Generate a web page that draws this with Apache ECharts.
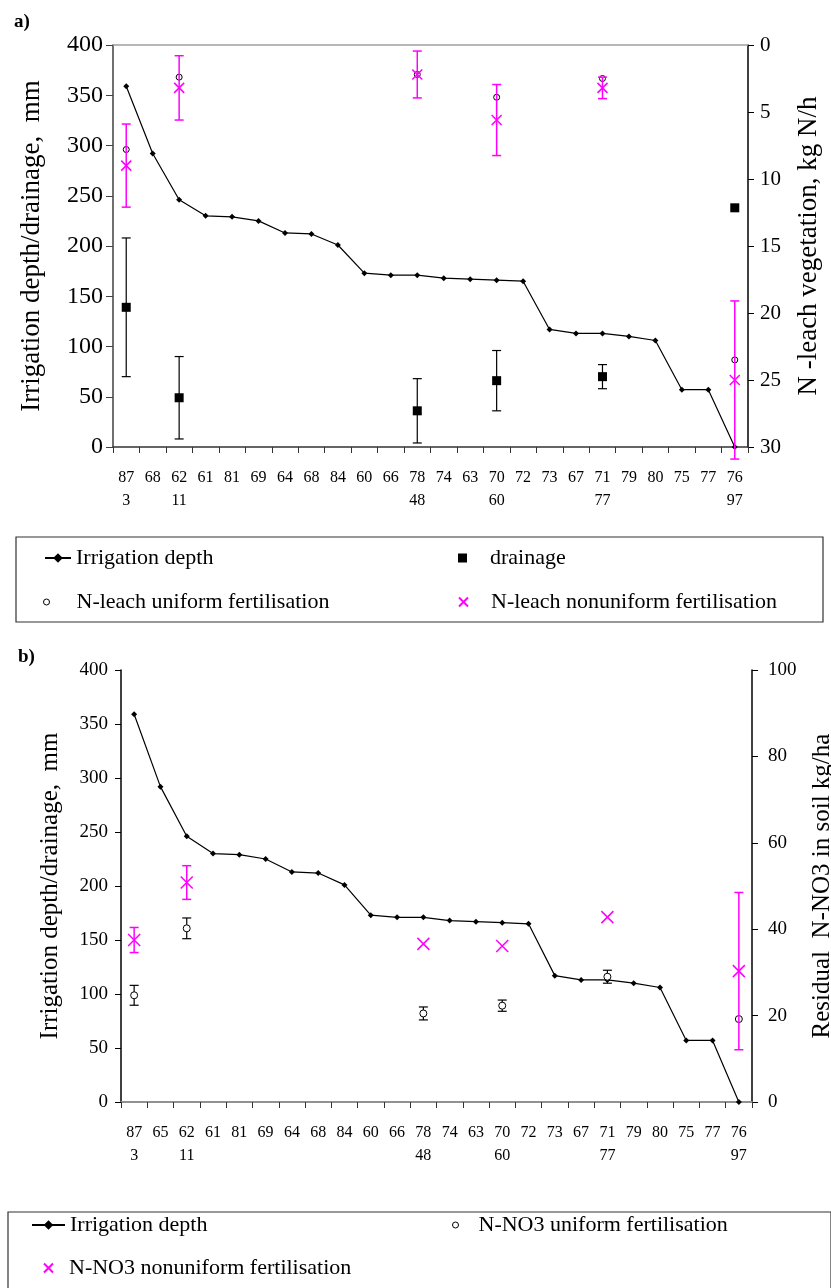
<!DOCTYPE html>
<html><head><meta charset="utf-8">
<script src="https://cdn.jsdelivr.net/npm/echarts@6/dist/echarts.min.js"></script>
<style>html,body{margin:0;padding:0;background:#fff}#c{width:831px;height:1288px}</style>
</head><body><div id="c"></div>
<script>
// ---------- data ----------
const categoriesA = ['87','68','62','61','81','69','64','68','84','60','66','78','74','63','70','72','73','67','71','79','80','75','77','76'];
const categoriesB = ['87','65','62','61','81','69','64','68','84','60','66','78','74','63','70','72','73','67','71','79','80','75','77','76'];
const subLabels   = ['3','','11','','','','','','','','','48','','','60','','','','77','','','','','97'];
const irrigationDepth = [359,292,246,230,229,225,213,212,201,173,171,171,168,167,166,165,117,113,113,110,106,57,57,0];
// panel a
const drainage     = [139,null,49,null,null,null,null,null,null,null,null,36,null,null,66,null,null,null,70,null,null,null,null,238];
const drainageErr  = [69,null,41,null,null,null,null,null,null,null,null,32,null,null,30,null,null,null,12,null,null,null,null,null];
const nLeachUniform    = [7.8,null,2.4,null,null,null,null,null,null,null,null,2.2,null,null,3.9,null,null,null,2.5,null,null,null,null,23.5];
const nLeachNonuni     = [9.0,null,3.2,null,null,null,null,null,null,null,null,2.2,null,null,5.6,null,null,null,3.2,null,null,null,null,25.0];
const nLeachNonuniErr  = [3.1,null,2.4,null,null,null,null,null,null,null,null,1.75,null,null,2.65,null,null,null,0.8,null,null,null,null,5.9];
// panel b
const no3Uniform      = [24.7,null,40.2,null,null,null,null,null,null,null,null,20.5,null,null,22.3,null,null,null,29.0,null,null,null,null,19.2];
const no3UniformErr   = [2.3,null,2.4,null,null,null,null,null,null,null,null,1.5,null,null,1.3,null,null,null,1.5,null,null,null,null,null];
const no3Nonuni       = [37.5,null,50.8,null,null,null,null,null,null,null,null,36.6,null,null,36.1,null,null,null,42.8,null,null,null,null,30.3];
const no3NonuniErr    = [2.9,null,3.9,null,null,null,null,null,null,null,null,null,null,null,null,null,null,null,null,null,null,null,null,18.2];
// axis ranges
const depthAxis  = {min:0, max:400, interval:50};
const leachAxis  = {min:0, max:30, interval:5};
const no3Axis    = {min:0, max:100, interval:20};

// ---------- helpers ----------
const FONT = 'Liberation Serif';
const MAG = '#FF00FF';
const pts = arr => arr.map((v,i)=> v==null?null:[i,v]).filter(Boolean);
const errPts = (arr,err) => arr.map((v,i)=> (v==null||err[i]==null)?null:[i,v,err[i]]).filter(Boolean);
function errorBar(color, capHalf, lw){
  return function(params, api){
    const i = api.value(0), v = api.value(1), e = api.value(2);
    const p1 = api.coord([i, v + e]), p2 = api.coord([i, v - e]);
    const st = {stroke: color, lineWidth: lw, fill: null};
    return {type:'group', children:[
      {type:'line', shape:{x1:p1[0],y1:p1[1],x2:p2[0],y2:p2[1]}, style:st},
      {type:'line', shape:{x1:p1[0]-capHalf,y1:p1[1],x2:p1[0]+capHalf,y2:p1[1]}, style:st},
      {type:'line', shape:{x1:p2[0]-capHalf,y1:p2[1],x2:p2[0]+capHalf,y2:p2[1]}, style:st}
    ]};
  };
}
const XSYM = 'path://M0,0L10,10M0,10L10,0';

function catAxis(grid, cats, fs){
  return {type:'category', gridIndex:grid, data:cats, boundaryGap:true,
    axisLine:{lineStyle:{color:'#333', width:1.5}},
    axisTick:{show:true, length:6, lineStyle:{color:'#333'}},
    axisLabel:{interval:0, color:'#000', fontFamily:FONT, fontSize:fs, lineHeight:23, margin:19,
      formatter:(v,idx)=> cats[idx] + '\n' + (subLabels[idx]||' ')}};
}
function topAxis(grid, cats){
  return {type:'category', gridIndex:grid, data:cats, position:'top',
    axisLine:{lineStyle:{color:'#a0a0a0', width:1.5}}, axisTick:{show:false}, axisLabel:{show:false}};
}

const legendText = (fs, pad)=>({fontFamily:FONT, fontSize:fs, color:'#000', lineHeight:24, rich:{g:{width:pad||0}}});
const fmt = n => '{g|}' + n;

const option = {
  animation:false,
  backgroundColor:'#fff',
  title:[
    {text:'a)', left:9, top:8, textStyle:{fontFamily:FONT, fontSize:19, fontWeight:'bold', color:'#000'}},
    {text:'b)', left:13, top:643, textStyle:{fontFamily:FONT, fontSize:19, fontWeight:'bold', color:'#000'}}
  ],
  grid:[
    {left:113, right:83, top:45, height:402, containLabel:false, outerBoundsMode:'none'},
    {left:121, right:79, top:670, height:432, containLabel:false, outerBoundsMode:'none'}
  ],
  xAxis:[ catAxis(0, categoriesA, 16), catAxis(1, categoriesB, 16), topAxis(0, categoriesA), topAxis(1, categoriesB) ],
  yAxis:[
    {type:'value', gridIndex:0, position:'left', ...depthAxis,
      name:'Irrigation depth/drainage,  mm', nameLocation:'middle', nameGap:68, nameRotate:90,
      nameTextStyle:{fontFamily:FONT, fontSize:27, color:'#000'},
      axisLine:{show:true, lineStyle:{color:'#404040', width:1.5}}, axisTick:{show:true, length:7, lineStyle:{color:'#404040'}},
      axisLabel:{fontFamily:FONT, fontSize:24, color:'#000', margin:10}, splitLine:{show:false}},
    {type:'value', gridIndex:0, position:'right', inverse:true, ...leachAxis,
      name:'N -leach vegetation, kg N/h', nameLocation:'middle', nameGap:47, nameRotate:90,
      nameTextStyle:{fontFamily:FONT, fontSize:27, color:'#000'},
      axisLine:{show:true, lineStyle:{color:'#000', width:1.5}}, axisTick:{show:true, length:6, lineStyle:{color:'#000'}},
      axisLabel:{fontFamily:FONT, fontSize:21, color:'#000', margin:12}, splitLine:{show:false}},
    {type:'value', gridIndex:1, position:'left', ...depthAxis,
      name:'Irrigation depth/drainage,  mm', nameLocation:'middle', nameGap:58, nameRotate:90,
      nameTextStyle:{fontFamily:FONT, fontSize:25, color:'#000'},
      axisLine:{show:true, lineStyle:{color:'#000', width:1.5}}, axisTick:{show:true, length:6, lineStyle:{color:'#000'}},
      axisLabel:{fontFamily:FONT, fontSize:19, color:'#000', margin:13}, splitLine:{show:false}},
    {type:'value', gridIndex:1, position:'right', ...no3Axis,
      name:'Residual  N-NO3 in soil kg/ha', nameLocation:'middle', nameGap:58, nameRotate:90,
      nameTextStyle:{fontFamily:FONT, fontSize:25, color:'#000'},
      axisLine:{show:true, lineStyle:{color:'#000', width:1.5}}, axisTick:{show:true, length:6, lineStyle:{color:'#000'}},
      axisLabel:{fontFamily:FONT, fontSize:19, color:'#000', margin:16}, splitLine:{show:false}}
  ],
  legend:[
    {left:44, top:546, padding:0, itemWidth:26, itemHeight:12, data:['Irrigation depth'], textStyle:legendText(22)},
    {left:458, top:546, padding:0, itemWidth:9, itemHeight:9, data:['drainage'], formatter:fmt, textStyle:legendText(22,18)},
    {left:43, top:590, padding:0, itemWidth:6, itemHeight:6,
      data:[{name:'N-leach uniform fertilisation', itemStyle:{borderWidth:1}}], formatter:fmt, textStyle:legendText(22,22)},
    {left:458, top:590, padding:0, itemWidth:9, itemHeight:9, data:['N-leach nonuniform fertilisation'], formatter:fmt, textStyle:legendText(22,18)},
    {left:31, top:1213, padding:0, itemWidth:33, itemHeight:12, data:['Irrigation depth'], textStyle:legendText(22)},
    {left:452, top:1213, padding:0, itemWidth:6, itemHeight:6,
      data:[{name:'N-NO3 uniform fertilisation', itemStyle:{borderWidth:1}}], formatter:fmt, textStyle:legendText(22,15)},
    {left:43, top:1256, padding:0, itemWidth:9, itemHeight:9, data:['N-NO3 nonuniform fertilisation'], formatter:fmt, textStyle:legendText(22,11)}
  ],
  graphic:[
    {type:'rect', shape:{x:16, y:537, width:807, height:85}, style:{fill:null, stroke:'#333', lineWidth:1.2}, z:-1},
    {type:'rect', shape:{x:8, y:1212, width:823, height:90}, style:{fill:null, stroke:'#333', lineWidth:1.2}, z:-1}
  ],
  series:[
    // panel a
    {name:'Irrigation depth', type:'line', xAxisIndex:0, yAxisIndex:0, data:irrigationDepth,
      symbol:'diamond', symbolSize:6, lineStyle:{color:'#000', width:1.2}, itemStyle:{color:'#000'}, z:2},
    {name:'drainage_err', type:'custom', xAxisIndex:0, yAxisIndex:0, data:errPts(drainage, drainageErr),
      renderItem:errorBar('#000', 4.5, 1.2), encode:{x:0,y:1}, z:3},
    {name:'drainage', type:'scatter', xAxisIndex:0, yAxisIndex:0, data:pts(drainage),
      symbol:'rect', symbolSize:9, itemStyle:{color:'#000', opacity:1}, z:4},
    {name:'N-leach uniform fertilisation', type:'scatter', xAxisIndex:0, yAxisIndex:1, data:pts(nLeachUniform),
      symbol:'circle', symbolSize:6, itemStyle:{color:'#fff', borderColor:'#000', borderWidth:1, opacity:1}, z:4},
    {name:'nleach_err', type:'custom', xAxisIndex:0, yAxisIndex:1, data:errPts(nLeachNonuni, nLeachNonuniErr),
      renderItem:errorBar(MAG, 4.5, 1.5), encode:{x:0,y:1}, z:5},
    {name:'N-leach nonuniform fertilisation', type:'scatter', xAxisIndex:0, yAxisIndex:1, data:pts(nLeachNonuni),
      symbol:XSYM, symbolSize:10, itemStyle:{color:MAG, borderColor:MAG, borderWidth:1.5, opacity:1}, z:6},
    // panel b
    {name:'Irrigation depth', type:'line', xAxisIndex:1, yAxisIndex:2, data:irrigationDepth,
      symbol:'diamond', symbolSize:6, lineStyle:{color:'#000', width:1.2}, itemStyle:{color:'#000'}, z:2},
    {name:'no3u_err', type:'custom', xAxisIndex:1, yAxisIndex:3, data:errPts(no3Uniform, no3UniformErr),
      renderItem:errorBar('#000', 4.5, 1.2), encode:{x:0,y:1}, z:3},
    {name:'N-NO3 uniform fertilisation', type:'scatter', xAxisIndex:1, yAxisIndex:3, data:pts(no3Uniform),
      symbol:'circle', symbolSize:7, itemStyle:{color:'#fff', borderColor:'#000', borderWidth:1, opacity:1}, z:4},
    {name:'no3n_err', type:'custom', xAxisIndex:1, yAxisIndex:3, data:errPts(no3Nonuni, no3NonuniErr),
      renderItem:errorBar(MAG, 4.5, 1.5), encode:{x:0,y:1}, z:5},
    {name:'N-NO3 nonuniform fertilisation', type:'scatter', xAxisIndex:1, yAxisIndex:3, data:pts(no3Nonuni),
      symbol:XSYM, symbolSize:12, itemStyle:{color:MAG, borderColor:MAG, borderWidth:1.5, opacity:1}, z:6}
  ]
};
const chart = echarts.init(document.getElementById('c'), null, {renderer:'canvas'});
chart.setOption(option);
</script></body></html>
